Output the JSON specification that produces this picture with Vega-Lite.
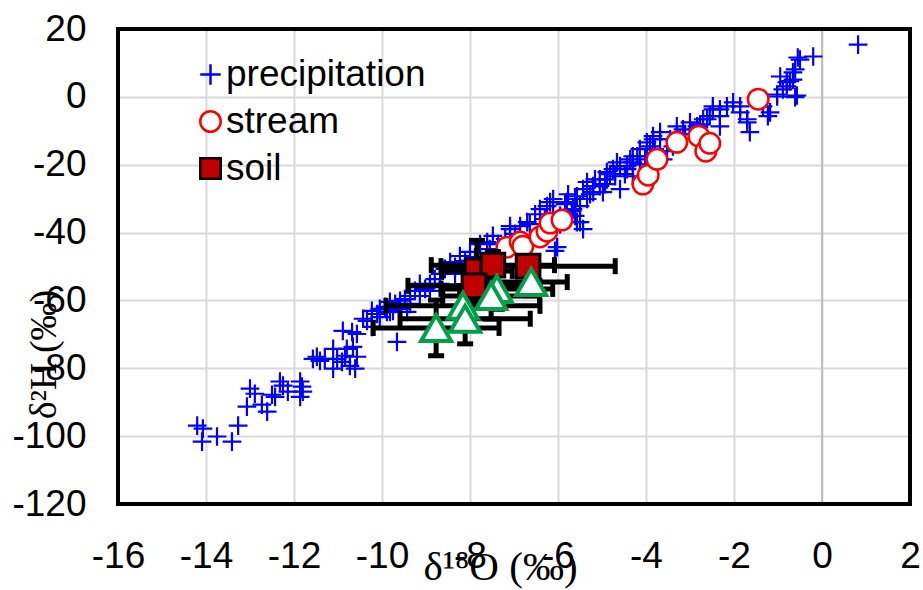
{
"$schema": "https://vega.github.io/schema/vega-lite/v6.json",
"width": 792, "height": 475,
"autosize": {"type": "none"},
"padding": {"left": 118, "top": 29, "right": 13, "bottom": 86},
"background": "white",
"config": {
  "view": {"stroke": null},
  "axis": {"grid": true, "gridColor": "#d9d9d9", "gridWidth": 2, "domain": false, "ticks": false, "labelFont": "Liberation Sans", "labelFontSize": 37, "labelColor": "black", "labelFlush": false, "labelOverlap": false, "titleFont": "Liberation Serif", "titleFontSize": 38, "titleFontWeight": "normal", "titleColor": "black", "labelExpr": "'' + datum.value"},
  "axisX": {"labelPadding": 34, "titleX": 382, "titleY": 63, "titleBaseline": "middle", "titleAlign": "center", "titleFontSize": 41},
  "axisY": {"labelPadding": 32, "titleX": -74, "titleY": 325, "titleBaseline": "middle", "titleAlign": "center", "titleAngle": -90},
  "legend": {"orient": "none", "legendX": 74, "legendY": 27, "title": null, "labelFont": "Liberation Sans", "labelFontSize": 37, "labelColor": "black", "labelLimit": 500, "symbolSize": 420, "symbolStrokeWidth": 2.5, "rowPadding": 9, "labelOffset": -3, "symbolOpacity": 1, "padding": 0}
},
"data": {"values": [
{"series":"precipitation","d18O":0.82,"d2H":15.4},
{"series":"precipitation","d18O":-0.20,"d2H":11.9},
{"series":"precipitation","d18O":-0.50,"d2H":11.0},
{"series":"precipitation","d18O":-0.55,"d2H":11.6},
{"series":"precipitation","d18O":-0.61,"d2H":8.1},
{"series":"precipitation","d18O":-0.66,"d2H":7.2},
{"series":"precipitation","d18O":-0.66,"d2H":5.1},
{"series":"precipitation","d18O":-0.80,"d2H":4.3},
{"series":"precipitation","d18O":-0.95,"d2H":6.0},
{"series":"precipitation","d18O":-0.73,"d2H":4.6},
{"series":"precipitation","d18O":-0.89,"d2H":2.2},
{"series":"precipitation","d18O":-0.61,"d2H":-0.1},
{"series":"precipitation","d18O":-0.57,"d2H":0.4},
{"series":"precipitation","d18O":-1.02,"d2H":0.1},
{"series":"precipitation","d18O":-0.80,"d2H":3.1},
{"series":"precipitation","d18O":-1.02,"d2H":0.7},
{"series":"precipitation","d18O":-1.18,"d2H":-4.6},
{"series":"precipitation","d18O":-1.34,"d2H":-2.8},
{"series":"precipitation","d18O":-1.23,"d2H":-5.7},
{"series":"precipitation","d18O":-1.64,"d2H":-10.4},
{"series":"precipitation","d18O":-1.70,"d2H":-7.5},
{"series":"precipitation","d18O":-1.70,"d2H":-6.6},
{"series":"precipitation","d18O":-1.86,"d2H":-2.8},
{"series":"precipitation","d18O":-1.86,"d2H":-4.6},
{"series":"precipitation","d18O":-2.02,"d2H":-1.6},
{"series":"precipitation","d18O":-2.16,"d2H":-2.8},
{"series":"precipitation","d18O":-2.32,"d2H":-3.7},
{"series":"precipitation","d18O":-2.32,"d2H":-5.7},
{"series":"precipitation","d18O":-2.32,"d2H":-8.7},
{"series":"precipitation","d18O":-2.48,"d2H":-2.8},
{"series":"precipitation","d18O":-2.48,"d2H":-3.7},
{"series":"precipitation","d18O":-2.55,"d2H":-5.7},
{"series":"precipitation","d18O":-2.61,"d2H":-6.6},
{"series":"precipitation","d18O":-2.70,"d2H":-6.6},
{"series":"precipitation","d18O":-2.84,"d2H":-9.6},
{"series":"precipitation","d18O":-2.84,"d2H":-8.7},
{"series":"precipitation","d18O":-2.93,"d2H":-11.0},
{"series":"precipitation","d18O":-3.00,"d2H":-7.5},
{"series":"precipitation","d18O":-3.16,"d2H":-9.6},
{"series":"precipitation","d18O":-3.23,"d2H":-12.5},
{"series":"precipitation","d18O":-3.30,"d2H":-8.7},
{"series":"precipitation","d18O":-3.39,"d2H":-14.6},
{"series":"precipitation","d18O":-3.52,"d2H":-16.0},
{"series":"precipitation","d18O":-3.61,"d2H":-18.4},
{"series":"precipitation","d18O":-3.68,"d2H":-12.5},
{"series":"precipitation","d18O":-3.68,"d2H":-10.4},
{"series":"precipitation","d18O":-3.84,"d2H":-12.5},
{"series":"precipitation","d18O":-3.84,"d2H":-11.6},
{"series":"precipitation","d18O":-3.91,"d2H":-14.6},
{"series":"precipitation","d18O":-3.98,"d2H":-17.5},
{"series":"precipitation","d18O":-3.98,"d2H":-13.4},
{"series":"precipitation","d18O":-4.14,"d2H":-15.4},
{"series":"precipitation","d18O":-4.20,"d2H":-17.5},
{"series":"precipitation","d18O":-4.30,"d2H":-17.5},
{"series":"precipitation","d18O":-4.30,"d2H":-19.3},
{"series":"precipitation","d18O":-4.30,"d2H":-23.4},
{"series":"precipitation","d18O":-4.36,"d2H":-18.4},
{"series":"precipitation","d18O":-4.43,"d2H":-20.4},
{"series":"precipitation","d18O":-4.43,"d2H":-21.3},
{"series":"precipitation","d18O":-4.59,"d2H":-20.4},
{"series":"precipitation","d18O":-4.59,"d2H":-27.2},
{"series":"precipitation","d18O":-4.66,"d2H":-19.3},
{"series":"precipitation","d18O":-4.70,"d2H":-23.4},
{"series":"precipitation","d18O":-4.75,"d2H":-21.3},
{"series":"precipitation","d18O":-4.89,"d2H":-22.2},
{"series":"precipitation","d18O":-4.89,"d2H":-24.3},
{"series":"precipitation","d18O":-4.98,"d2H":-28.1},
{"series":"precipitation","d18O":-5.05,"d2H":-26.3},
{"series":"precipitation","d18O":-5.05,"d2H":-24.3},
{"series":"precipitation","d18O":-5.20,"d2H":-26.3},
{"series":"precipitation","d18O":-5.20,"d2H":-28.1},
{"series":"precipitation","d18O":-5.34,"d2H":-25.1},
{"series":"precipitation","d18O":-5.34,"d2H":-30.1},
{"series":"precipitation","d18O":-5.43,"d2H":-27.2},
{"series":"precipitation","d18O":-5.50,"d2H":-32.2},
{"series":"precipitation","d18O":-5.50,"d2H":-36.9},
{"series":"precipitation","d18O":-5.57,"d2H":-29.3},
{"series":"precipitation","d18O":-5.66,"d2H":-33.1},
{"series":"precipitation","d18O":-5.68,"d2H":-33.7},
{"series":"precipitation","d18O":-5.80,"d2H":-31.0},
{"series":"precipitation","d18O":-5.80,"d2H":-34.0},
{"series":"precipitation","d18O":-5.95,"d2H":-35.1},
{"series":"precipitation","d18O":-6.02,"d2H":-44.3},
{"series":"precipitation","d18O":-6.11,"d2H":-35.1},
{"series":"precipitation","d18O":-6.11,"d2H":-30.1},
{"series":"precipitation","d18O":-6.18,"d2H":-31.0},
{"series":"precipitation","d18O":-6.25,"d2H":-32.2},
{"series":"precipitation","d18O":-5.43,"d2H":-39.0},
{"series":"precipitation","d18O":-5.57,"d2H":-36.9},
{"series":"precipitation","d18O":-6.41,"d2H":-33.1},
{"series":"precipitation","d18O":-6.52,"d2H":-34.6},
{"series":"precipitation","d18O":-6.70,"d2H":-36.9},
{"series":"precipitation","d18O":-6.86,"d2H":-38.1},
{"series":"precipitation","d18O":-7.09,"d2H":-39.0},
{"series":"precipitation","d18O":-6.64,"d2H":-37.5},
{"series":"precipitation","d18O":-6.98,"d2H":-40.4},
{"series":"precipitation","d18O":-7.20,"d2H":-41.9},
{"series":"precipitation","d18O":-7.09,"d2H":-38.1},
{"series":"precipitation","d18O":-7.48,"d2H":-41.0},
{"series":"precipitation","d18O":-7.61,"d2H":-42.8},
{"series":"precipitation","d18O":-7.77,"d2H":-43.4},
{"series":"precipitation","d18O":-8.00,"d2H":-45.7},
{"series":"precipitation","d18O":-8.23,"d2H":-46.9},
{"series":"precipitation","d18O":-8.45,"d2H":-48.7},
{"series":"precipitation","d18O":-8.34,"d2H":-50.1},
{"series":"precipitation","d18O":-8.57,"d2H":-50.7},
{"series":"precipitation","d18O":-8.68,"d2H":-52.2},
{"series":"precipitation","d18O":-8.80,"d2H":-53.7},
{"series":"precipitation","d18O":-8.91,"d2H":-55.1},
{"series":"precipitation","d18O":-9.02,"d2H":-56.6},
{"series":"precipitation","d18O":-9.14,"d2H":-55.1},
{"series":"precipitation","d18O":-9.25,"d2H":-57.2},
{"series":"precipitation","d18O":-9.36,"d2H":-58.7},
{"series":"precipitation","d18O":-9.48,"d2H":-59.6},
{"series":"precipitation","d18O":-9.59,"d2H":-60.1},
{"series":"precipitation","d18O":-9.70,"d2H":-61.0},
{"series":"precipitation","d18O":-9.82,"d2H":-60.4},
{"series":"precipitation","d18O":-9.93,"d2H":-61.9},
{"series":"precipitation","d18O":-10.05,"d2H":-62.5},
{"series":"precipitation","d18O":-10.11,"d2H":-64.0},
{"series":"precipitation","d18O":-10.23,"d2H":-63.1},
{"series":"precipitation","d18O":-9.89,"d2H":-63.4},
{"series":"precipitation","d18O":-9.75,"d2H":-63.1},
{"series":"precipitation","d18O":-9.59,"d2H":-62.5},
{"series":"precipitation","d18O":-9.43,"d2H":-63.4},
{"series":"precipitation","d18O":-10.43,"d2H":-65.4},
{"series":"precipitation","d18O":-10.23,"d2H":-67.8},
{"series":"precipitation","d18O":-9.66,"d2H":-72.2},
{"series":"precipitation","d18O":-10.89,"d2H":-69.0},
{"series":"precipitation","d18O":-10.68,"d2H":-69.3},
{"series":"precipitation","d18O":-10.57,"d2H":-69.9},
{"series":"precipitation","d18O":-11.11,"d2H":-74.3},
{"series":"precipitation","d18O":-11.02,"d2H":-77.2},
{"series":"precipitation","d18O":-11.11,"d2H":-80.1},
{"series":"precipitation","d18O":-10.91,"d2H":-78.1},
{"series":"precipitation","d18O":-10.84,"d2H":-76.3},
{"series":"precipitation","d18O":-10.80,"d2H":-74.3},
{"series":"precipitation","d18O":-10.73,"d2H":-79.3},
{"series":"precipitation","d18O":-10.66,"d2H":-73.7},
{"series":"precipitation","d18O":-10.61,"d2H":-80.1},
{"series":"precipitation","d18O":-10.57,"d2H":-76.6},
{"series":"precipitation","d18O":-11.57,"d2H":-77.2},
{"series":"precipitation","d18O":-11.48,"d2H":-76.6},
{"series":"precipitation","d18O":-11.41,"d2H":-77.8},
{"series":"precipitation","d18O":-11.30,"d2H":-77.2},
{"series":"precipitation","d18O":-11.86,"d2H":-83.9},
{"series":"precipitation","d18O":-11.82,"d2H":-85.4},
{"series":"precipitation","d18O":-11.80,"d2H":-86.9},
{"series":"precipitation","d18O":-11.86,"d2H":-88.4},
{"series":"precipitation","d18O":-12.14,"d2H":-86.9},
{"series":"precipitation","d18O":-12.25,"d2H":-85.1},
{"series":"precipitation","d18O":-12.32,"d2H":-83.9},
{"series":"precipitation","d18O":-12.43,"d2H":-88.4},
{"series":"precipitation","d18O":-12.50,"d2H":-87.8},
{"series":"precipitation","d18O":-12.61,"d2H":-92.8},
{"series":"precipitation","d18O":-12.73,"d2H":-90.7},
{"series":"precipitation","d18O":-12.89,"d2H":-87.5},
{"series":"precipitation","d18O":-13.00,"d2H":-86.0},
{"series":"precipitation","d18O":-13.07,"d2H":-91.3},
{"series":"precipitation","d18O":-13.27,"d2H":-96.9},
{"series":"precipitation","d18O":-13.41,"d2H":-101.6},
{"series":"precipitation","d18O":-13.75,"d2H":-100.1},
{"series":"precipitation","d18O":-14.09,"d2H":-101.6},
{"series":"precipitation","d18O":-14.20,"d2H":-96.9},
{"series":"precipitation","d18O":-14.07,"d2H":-97.8},
{"series":"precipitation","d18O":-8.11,"d2H":-48.4},
{"series":"precipitation","d18O":-7.89,"d2H":-47.2},
{"series":"precipitation","d18O":-7.55,"d2H":-44.9},
{"series":"precipitation","d18O":-7.36,"d2H":-43.4},
{"series":"precipitation","d18O":-7.32,"d2H":-44.9},
{"series":"precipitation","d18O":-8.68,"d2H":-55.1},
{"series":"precipitation","d18O":-8.91,"d2H":-57.2},
{"series":"precipitation","d18O":-9.14,"d2H":-58.7},
{"series":"precipitation","d18O":-9.36,"d2H":-61.0},
{"series":"precipitation","d18O":-9.82,"d2H":-63.4},
{"series":"precipitation","d18O":-10.05,"d2H":-64.9},
{"series":"precipitation","d18O":-10.34,"d2H":-66.0},
{"series":"precipitation","d18O":-8.34,"d2H":-52.2},
{"series":"precipitation","d18O":-8.18,"d2H":-50.7},
{"series":"precipitation","d18O":-6.07,"d2H":-45.4},
{"series":"precipitation","d18O":-5.84,"d2H":-31.6},
{"series":"precipitation","d18O":-5.61,"d2H":-30.1},
{"series":"precipitation","d18O":-5.27,"d2H":-28.7},
{"series":"precipitation","d18O":-5.16,"d2H":-24.3},
{"series":"precipitation","d18O":-4.93,"d2H":-25.7},
{"series":"precipitation","d18O":-4.82,"d2H":-22.8},
{"series":"precipitation","d18O":-4.48,"d2H":-22.8},
{"series":"precipitation","d18O":-4.14,"d2H":-19.9},
{"series":"precipitation","d18O":-4.02,"d2H":-18.4},
{"series":"precipitation","d18O":-3.80,"d2H":-15.4},
{"series":"precipitation","d18O":-3.45,"d2H":-12.5},
{"series":"precipitation","d18O":-3.11,"d2H":-11.0},
{"series":"precipitation","d18O":-2.77,"d2H":-8.1},
{"series":"precipitation","d18O":-5.61,"d2H":-35.1},
{"series":"precipitation","d18O":-5.95,"d2H":-37.5},
{"series":"precipitation","d18O":-6.30,"d2H":-36.0},
{"series":"precipitation","d18O":-5.77,"d2H":-28.7},
{"series":"stream","d18O":-7.16,"d2H":-44.3},
{"series":"stream","d18O":-6.86,"d2H":-42.8},
{"series":"stream","d18O":-6.80,"d2H":-44.0},
{"series":"stream","d18O":-6.41,"d2H":-41.3},
{"series":"stream","d18O":-6.25,"d2H":-39.6},
{"series":"stream","d18O":-6.18,"d2H":-37.2},
{"series":"stream","d18O":-5.91,"d2H":-36.3},
{"series":"stream","d18O":-4.07,"d2H":-25.7},
{"series":"stream","d18O":-3.95,"d2H":-23.1},
{"series":"stream","d18O":-3.75,"d2H":-18.4},
{"series":"stream","d18O":-3.30,"d2H":-13.4},
{"series":"stream","d18O":-2.80,"d2H":-11.6},
{"series":"stream","d18O":-2.64,"d2H":-16.0},
{"series":"stream","d18O":-2.55,"d2H":-13.7},
{"series":"stream","d18O":-1.45,"d2H":-0.7},
{"series":"soil","d18O":-7.84,"d2H":-51.3,"xlo":-8.64,"xhi":-7.04,"ylo":-60.3,"yhi":-42.3},
{"series":"soil","d18O":-7.48,"d2H":-49.6,"xlo":-8.88,"xhi":-6.08,"ylo":-53.6,"yhi":-45.6},
{"series":"soil","d18O":-6.68,"d2H":-49.9,"xlo":-8.66,"xhi":-4.70,"ylo":-52.9,"yhi":-46.9},
{"series":"soil","d18O":-7.91,"d2H":-55.7,"xlo":-9.41,"xhi":-6.41,"ylo":-60.7,"yhi":-50.7},
{"series":"groundwater","d18O":-8.77,"d2H":-68.1,"xlo":-10.20,"xhi":-7.34,"ylo":-76.3,"yhi":-59.9},
{"series":"groundwater","d18O":-8.16,"d2H":-61.6,"xlo":-9.91,"xhi":-6.41,"ylo":-67.6,"yhi":-55.6},
{"series":"groundwater","d18O":-8.11,"d2H":-65.4,"xlo":-9.59,"xhi":-6.63,"ylo":-72.8,"yhi":-58.0},
{"series":"groundwater","d18O":-7.39,"d2H":-56.6,"xlo":-8.66,"xhi":-6.12,"ylo":-62.6,"yhi":-50.6},
{"series":"groundwater","d18O":-7.52,"d2H":-58.7,"xlo":-8.62,"xhi":-6.42,"ylo":-65.5,"yhi":-51.9},
{"series":"groundwater","d18O":-6.61,"d2H":-54.6,"xlo":-7.43,"xhi":-5.79,"ylo":-58.6,"yhi":-50.6}
]},
"layer": [
  {"mark": {"type": "rule", "color": "#bfbfbf", "strokeWidth": 2},
   "encoding": {"x": {"datum": 0, "type": "quantitative", "title": "δ¹⁸O (‰)", "scale": {"domain": [-16, 2], "nice": false, "zero": false}, "axis": {"values": [-16,-14,-12,-10,-8,-6,-4,-2,0,2]}},
                "y": {"datum": -120, "type": "quantitative", "title": "δ²H (‰)", "scale": {"domain": [-120, 20], "nice": false, "zero": false}, "axis": {"values": [-120,-100,-80,-60,-40,-20,0,20]}},
                "y2": {"datum": 20}}},
  {"transform": [{"filter": "datum.series === 'precipitation'"}],
   "mark": {"type": "point", "size": 350, "strokeWidth": 2.2, "opacity": 1},
   "encoding": {
     "x": {"field": "d18O", "type": "quantitative", "title": "δ¹⁸O (‰)"},
     "y": {"field": "d2H", "type": "quantitative", "title": "δ²H (‰)"},
     "shape": {"field": "series", "type": "nominal", "scale": {"domain": ["precipitation", "stream", "soil", "groundwater"], "range": ["M-1,0H1M0,-1V1", "circle", "square", "triangle-up"]}, "legend": {"values": ["precipitation", "stream", "soil"]}},
     "stroke": {"field": "series", "type": "nominal", "scale": {"domain": ["precipitation", "stream", "soil", "groundwater"], "range": ["#0000ff", "#ff0000", "#000000", "#00a04a"]}, "legend": {"values": ["precipitation", "stream", "soil"]}},
     "fill": {"field": "series", "type": "nominal", "scale": {"domain": ["precipitation", "stream", "soil", "groundwater"], "range": ["#0000ff", "#ffffff", "#c00000", "#ffffff"]}, "legend": {"values": ["precipitation", "stream", "soil"]}}
   }},
  {"transform": [{"filter": "datum.series === 'stream'"}],
   "mark": {"type": "point", "size": 420, "strokeWidth": 2.5, "opacity": 1},
   "encoding": {
     "x": {"field": "d18O", "type": "quantitative", "title": "δ¹⁸O (‰)"},
     "y": {"field": "d2H", "type": "quantitative", "title": "δ²H (‰)"},
     "shape": {"field": "series", "type": "nominal"},
     "stroke": {"field": "series", "type": "nominal"},
     "fill": {"field": "series", "type": "nominal"}
   }},
  {"transform": [{"filter": "datum.series !== 'precipitation' && datum.series !== 'stream'"}],
   "mark": {"type": "errorbar", "rule": {"color": "black", "strokeWidth": 5, "opacity": 1}, "ticks": {"size": 16, "thickness": 5, "color": "black", "opacity": 1}},
   "encoding": {
     "x": {"field": "xlo", "type": "quantitative", "title": "δ¹⁸O (‰)"},
     "x2": {"field": "xhi"},
     "y": {"field": "d2H", "type": "quantitative", "title": "δ²H (‰)"}
   }},
  {"transform": [{"filter": "datum.series !== 'precipitation' && datum.series !== 'stream'"}],
   "mark": {"type": "errorbar", "rule": {"color": "black", "strokeWidth": 5, "opacity": 1}, "ticks": {"size": 16, "thickness": 5, "color": "black", "opacity": 1}},
   "encoding": {
     "y": {"field": "ylo", "type": "quantitative", "title": "δ²H (‰)"},
     "y2": {"field": "yhi"},
     "x": {"field": "d18O", "type": "quantitative", "title": "δ¹⁸O (‰)"}
   }},
  {"transform": [{"filter": "datum.series === 'soil'"}],
   "mark": {"type": "point", "size": 560, "strokeWidth": 3, "opacity": 1},
   "encoding": {
     "x": {"field": "d18O", "type": "quantitative", "title": "δ¹⁸O (‰)"},
     "y": {"field": "d2H", "type": "quantitative", "title": "δ²H (‰)"},
     "shape": {"field": "series", "type": "nominal"},
     "stroke": {"field": "series", "type": "nominal"},
     "fill": {"field": "series", "type": "nominal"}
   }},
  {"transform": [{"filter": "datum.series === 'groundwater'"}],
   "mark": {"type": "point", "size": 900, "strokeWidth": 4, "opacity": 1},
   "encoding": {
     "x": {"field": "d18O", "type": "quantitative", "title": "δ¹⁸O (‰)"},
     "y": {"field": "d2H", "type": "quantitative", "title": "δ²H (‰)"},
     "shape": {"field": "series", "type": "nominal"},
     "stroke": {"field": "series", "type": "nominal"},
     "fill": {"field": "series", "type": "nominal"}
   }},
  {"mark": {"type": "rect", "filled": false, "stroke": "black", "strokeWidth": 4},
   "encoding": {"x": {"datum": -16, "type": "quantitative"}, "x2": {"datum": 2},
                "y": {"datum": -120, "type": "quantitative"}, "y2": {"datum": 20}}}
]
}
